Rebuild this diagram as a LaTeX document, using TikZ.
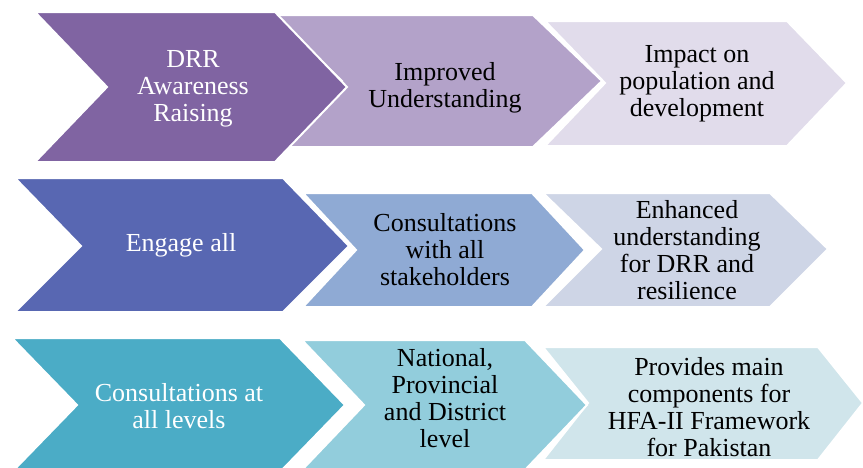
\documentclass[tikz,border=0pt]{standalone}
\usepackage{fontspec}
\setmainfont{Liberation Serif}
\definecolor{pA}{RGB}{128,100,162}
\definecolor{pB}{RGB}{179,162,201}
\definecolor{pC}{RGB}{225,220,235}
\definecolor{bA}{RGB}{88,103,178}
\definecolor{bB}{RGB}{143,170,212}
\definecolor{bC}{RGB}{206,213,230}
\definecolor{tA}{RGB}{75,172,198}
\definecolor{tB}{RGB}{146,205,220}
\definecolor{tC}{RGB}{208,229,235}
% #1 fill colour, #2 L, #3 T, #4 B, #5 R, #6 depth, #7 middle y
\newcommand{\chevshape}[7]{%
  \filldraw[chevbox,fill=#1] (#2,#3) -- (#5,#3) -- ({#5+#6},#7) -- (#5,#4) -- (#2,#4) -- ({#2+#6},#7) -- cycle;}
\begin{document}
\begin{tikzpicture}[x=1pt,y=-1pt,
  chevbox/.style={draw=white,line width=2pt,line join=miter},
  lbl/.style={align=center,inner sep=0pt,font=\fontsize{26}{27}\selectfont},
  wlbl/.style={lbl,text=white},
  klbl/.style={lbl,text=black}]
\useasboundingbox (0,0) rectangle (863,467);
\fill[white] (0,0) rectangle (863,467);
% row 1
\chevshape{pC}{545}{21}{146}{787}{60}{83}
\chevshape{pB}{273}{15}{147}{533}{69}{81}
\chevshape{pA}{35}{12}{162}{275}{72}{87}
% row 2
\chevshape{bC}{543}{193}{307}{770}{58}{249}
\chevshape{bB}{303}{193}{307}{532}{53}{250}
\chevshape{bA}{15}{178}{312}{283}{66}{246}
% row 3
\chevshape{tC}{543}{347}{460}{818}{45}{403}
\chevshape{tB}{302}{340}{470}{525}{62}{405}
\chevshape{tA}{12}{338}{472}{280}{65}{405}
% labels
\node[wlbl] (a1) at (193,89) {DRR\\Awareness\\Raising};
\node[klbl] (a2) at (445,88) {Improved\\Understanding};
\node[klbl] (a3) at (697,84) {Impact on\\population and\\development};
\node[wlbl] (b1) at (181,245) {Engage all};
\node[klbl] (b2) at (445,250) {Consultations\\with all\\stakeholders};
\node[klbl] (b3) at (687,250) {Enhanced\\understanding\\for DRR and\\resilience};
\node[wlbl] (c1) at (179,406) {Consultations at\\all levels};
\node[klbl] (c2) at (445,398) {National,\\Provincial\\and District\\level};
\node[klbl] (c3) at (709,407) {Provides main\\components for\\HFA-II Framework\\for Pakistan};
\end{tikzpicture}
\end{document}
